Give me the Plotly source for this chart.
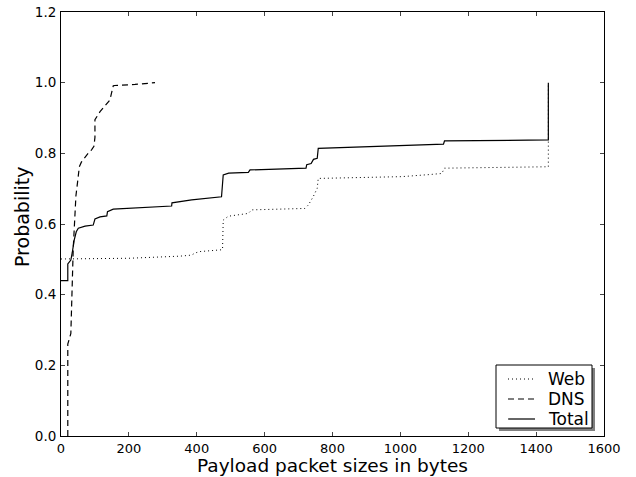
import plotly.graph_objects as go

# Web (dotted)
web_x = [0, 200, 351, 385, 395, 410, 473, 476, 478, 493, 552, 562, 719, 729, 743, 755, 758, 1004, 1087, 1122, 1130, 1431, 1436, 1436]
web_y = [0.501, 0.503, 0.509, 0.512, 0.518, 0.522, 0.527, 0.528, 0.611, 0.622, 0.630, 0.640, 0.644, 0.654, 0.677, 0.701, 0.729, 0.734, 0.740, 0.743, 0.758, 0.762, 0.762, 1.0]

# DNS (dashed)
dns_x = [20, 20, 29, 33, 34, 36, 41, 44, 49, 54, 60, 68, 80, 90, 97, 100, 100, 115, 144, 154, 158, 218, 277]
dns_y = [0.0, 0.26, 0.29, 0.39, 0.46, 0.53, 0.63, 0.68, 0.72, 0.762, 0.775, 0.786, 0.80, 0.81, 0.82, 0.845, 0.895, 0.918, 0.951, 0.991, 0.992, 0.995, 1.0]

# Total (solid)
tot_x = [0, 20, 20, 29, 33, 39, 45, 51, 71, 95, 100, 115, 135, 137, 154, 326, 327, 385, 473, 478, 494, 552, 557, 722, 724, 737, 744, 755, 758, 1009, 1010, 1127, 1130, 1436, 1436]
tot_y = [0.44, 0.44, 0.487, 0.498, 0.518, 0.555, 0.578, 0.588, 0.594, 0.597, 0.614, 0.620, 0.623, 0.635, 0.642, 0.651, 0.660, 0.668, 0.677, 0.739, 0.744, 0.746, 0.753, 0.758, 0.768, 0.771, 0.783, 0.786, 0.814, 0.821, 0.823, 0.826, 0.835, 0.838, 1.0]

x_ticks = [0, 200, 400, 600, 800, 1000, 1200, 1400, 1600]
y_ticks = [0.0, 0.2, 0.4, 0.6, 0.8, 1.0, 1.2]

series_names = ["Web", "DNS", "Total"]
series_dash = ["1px,3px", "6px,4px", "solid"]
series_width = [1, 1.2, 1.2]

fig = go.Figure()
for name, xs, ys, dash, w in zip(series_names, [web_x, dns_x, tot_x], [web_y, dns_y, tot_y],
                                 series_dash, series_width):
    fig.add_trace(go.Scatter(x=xs, y=ys, mode="lines", name=name, showlegend=False,
                             line=dict(color="black", width=w, dash=dash)))

L, R, T, B = 61, 32, 12, 41
W, H = 636, 477
pw, ph = W - L - R, H - T - B

def px2paper(px, py):
    return (px - L) / pw, (H - B - py) / ph

shapes = []
annotations = []
# legend shadow and box
x0, y1 = px2paper(499, 368)
x1, y0 = px2paper(595, 431)
shapes.append(dict(type="rect", xref="paper", yref="paper", x0=x0, x1=x1, y0=y0, y1=y1,
                   fillcolor="#808080", line=dict(width=0), layer="above"))
x0, y1 = px2paper(496, 365)
x1, y0 = px2paper(592, 428)
shapes.append(dict(type="rect", xref="paper", yref="paper", x0=x0, x1=x1, y0=y0, y1=y1,
                   fillcolor="white", line=dict(color="black", width=1), layer="above"))
row_py = [379, 399, 419]
for name, dash, w, py in zip(series_names, series_dash, series_width, row_py):
    lx0, ly = px2paper(508, py)
    lx1, _ = px2paper(535, py)
    shapes.append(dict(type="line", xref="paper", yref="paper", x0=lx0, x1=lx1, y0=ly, y1=ly,
                       line=dict(color="black", width=w, dash=dash), layer="above"))
    tx, _ = px2paper(546, py)
    annotations.append(dict(xref="paper", yref="paper", x=tx, y=ly, xanchor="left", yanchor="middle",
                            text=name, showarrow=False, font=dict(size=17)))

# axis titles
tx, ty = px2paper((L + W - R) / 2, 466)
annotations.append(dict(xref="paper", yref="paper", x=tx, y=ty, xanchor="center", yanchor="middle",
                        text="Payload packet sizes in bytes", showarrow=False, font=dict(size=18.5)))
tx, ty = px2paper(22, 217)
annotations.append(dict(xref="paper", yref="paper", x=tx, y=ty, xanchor="center", yanchor="middle",
                        text="Probability", showarrow=False, textangle=-90, font=dict(size=19)))

fig.update_layout(
    width=W, height=H,
    margin=dict(l=L, r=R, t=T, b=B, autoexpand=False),
    plot_bgcolor="white", paper_bgcolor="white",
    font=dict(family="DejaVu Sans", color="black", size=13),
    showlegend=False,
    shapes=shapes, annotations=annotations,
    xaxis=dict(range=[0, 1600], tickvals=x_ticks, ticks="inside", ticklen=4,
               showline=True, linecolor="black", linewidth=1, mirror="allticks",
               showgrid=False, zeroline=False, automargin=False,
               tickfont=dict(size=13), ticklabelstandoff=0),
    yaxis=dict(range=[0, 1.2], tickvals=y_ticks, tickformat=".1f", ticks="inside", ticklen=4,
               showline=True, linecolor="black", linewidth=1, mirror="allticks",
               showgrid=False, zeroline=False, automargin=False,
               tickfont=dict(size=13.5), ticklabelstandoff=1),
)

fig.write_html("out.html", config={"displayModeBar": False},
               post_script="document.body.style.margin='0';document.body.style.padding='0';")
